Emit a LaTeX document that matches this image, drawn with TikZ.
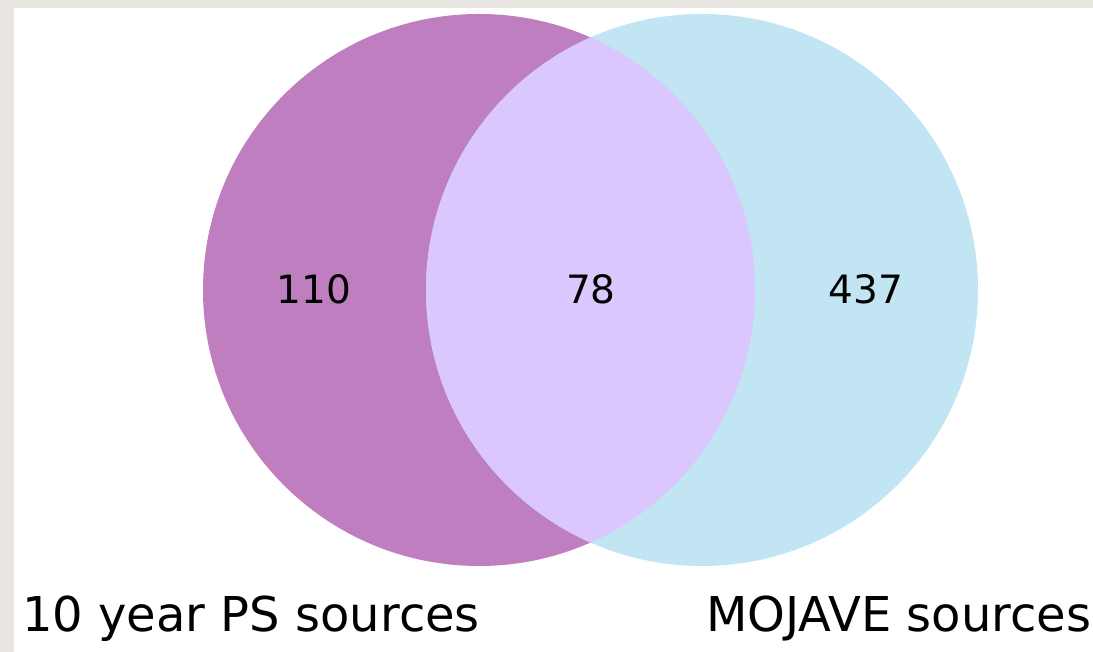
\documentclass[tikz,border=0pt]{standalone}
\usepackage{fontspec}
\setmainfont{DejaVu Sans}
\definecolor{paper}{HTML}{E8E5E0}
\definecolor{setA}{HTML}{BF7EBF}
\definecolor{setB}{HTML}{C2E5F3}
\definecolor{setAB}{HTML}{DAC7FD}
\tikzset{
  count/.style={inner sep=0pt, font=\fontsize{39}{39}\selectfont},
  setlabel/.style={inner sep=0pt, anchor=base west, font=\fontsize{48}{48}\selectfont}
}
\begin{document}
\begin{tikzpicture}[x=1pt,y=1pt]
  % page and frame
  \fill[paper] (0,0) rectangle (1093,652);
  \fill[white] (14,0) rectangle (1093,644);
  \useasboundingbox (0,0) rectangle (1093,652);
  % the two sets
  \coordinate (ca) at (479,362);
  \coordinate (cb) at (702,362);
  \fill[setA] (ca) circle[radius=276];
  \fill[setB] (cb) circle[radius=276];
  \begin{scope}
    \clip (ca) circle[radius=276];
    \fill[setAB] (cb) circle[radius=276];
  \end{scope}
  % counts
  \node[count] (nA) at (314,363) {110};
  \node[count] (nAB) at (591,363) {78};
  \node[count] (nB) at (866,363) {437};
  % set names
  \node[setlabel] (lA) at (22,20) {10 year PS sources};
  \node[setlabel] (lB) at (706,20) {MOJAVE sources};
\end{tikzpicture}
\end{document}
